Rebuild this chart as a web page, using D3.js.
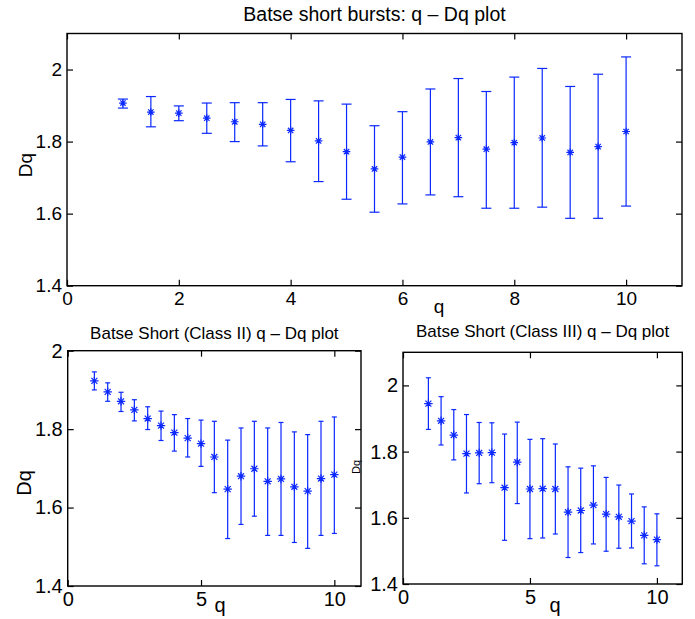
<!DOCTYPE html>
<html>
<head>
<meta charset="utf-8">
<script src="https://cdn.jsdelivr.net/npm/d3@7"></script>
<style>
  body { margin: 0; background: #fff; }
  svg { display: block; font-family: "Liberation Sans", Arial, sans-serif; }
</style>
</head>
<body>
<svg id="chart" width="695" height="619"></svg>
<script>
// q values shared by all three panels
const qValues = [1, 1.5, 2, 2.5, 3, 3.5, 4, 4.5, 5, 5.5, 6, 6.5, 7, 7.5, 8, 8.5, 9, 9.5, 10];

// all short bursts
const allDq = [1.907, 1.882, 1.879, 1.865, 1.855, 1.848, 1.831, 1.802, 1.772, 1.724, 1.757, 1.799, 1.811, 1.779, 1.797, 1.810, 1.770, 1.786, 1.828];
const allLo = [1.893, 1.841, 1.858, 1.823, 1.800, 1.788, 1.744, 1.689, 1.640, 1.604, 1.627, 1.652, 1.647, 1.615, 1.615, 1.618, 1.587, 1.587, 1.621];
const allHi = [1.918, 1.925, 1.899, 1.907, 1.908, 1.908, 1.917, 1.913, 1.904, 1.844, 1.883, 1.946, 1.975, 1.939, 1.979, 2.003, 1.953, 1.987, 2.035];

// class II
const class2Dq = [1.923, 1.895, 1.871, 1.849, 1.827, 1.809, 1.791, 1.777, 1.763, 1.729, 1.647, 1.680, 1.699, 1.667, 1.673, 1.653, 1.642, 1.674, 1.684];
const class2Lo = [1.900, 1.871, 1.845, 1.821, 1.799, 1.771, 1.744, 1.729, 1.705, 1.638, 1.521, 1.557, 1.578, 1.529, 1.529, 1.511, 1.496, 1.529, 1.534];
const class2Hi = [1.946, 1.918, 1.894, 1.875, 1.857, 1.846, 1.837, 1.827, 1.823, 1.820, 1.772, 1.803, 1.820, 1.803, 1.817, 1.793, 1.786, 1.820, 1.831];

// class III
const class3Dq = [1.945, 1.893, 1.850, 1.794, 1.796, 1.797, 1.691, 1.768, 1.687, 1.688, 1.687, 1.617, 1.622, 1.638, 1.611, 1.603, 1.590, 1.547, 1.534];
const class3Lo = [1.867, 1.820, 1.775, 1.675, 1.703, 1.706, 1.532, 1.643, 1.537, 1.539, 1.551, 1.480, 1.495, 1.521, 1.499, 1.508, 1.509, 1.461, 1.455];
const class3Hi = [2.023, 1.966, 1.927, 1.912, 1.888, 1.887, 1.853, 1.889, 1.837, 1.839, 1.823, 1.754, 1.750, 1.757, 1.722, 1.699, 1.672, 1.633, 1.612];

// tick labels
const topXTicks = [0, 2, 4, 6, 8, 10];
const smallXTicks = [0, 5, 10];
const yTicks = [1.4, 1.6, 1.8, 2];

const titles = ['Batse short bursts: q \u2013 Dq plot', 'Batse Short (Class II) q \u2013 Dq plot', 'Batse Short (Class III) q \u2013 Dq plot'];

const svg = d3.select('#chart');
const blue = '#0a28ff';

function asterisk(r) {
  const d = r * Math.SQRT1_2;
  return 'M' + (-r) + ',0H' + r + 'M0,' + (-r) + 'V' + r +
    'M' + (-d) + ',' + (-d) + 'L' + d + ',' + d +
    'M' + (-d) + ',' + d + 'L' + d + ',' + (-d);
}

function panel(opt) {
  const x = d3.scaleLinear().domain([0, 11]).range([opt.left, opt.right]);
  const y = d3.scaleLinear().domain(opt.yDomain).range([opt.bottom, opt.top]);
  const g = svg.append('g');

  const rows = qValues.map((q, i) => ({ q: q, v: opt.dq[i], lo: opt.lo[i], hi: opt.hi[i] }));

  // axes, ticks pointing inward
  const fmt = d => String(d);
  const ax = [
    g.append('g').attr('transform', 'translate(0,' + opt.bottom + ')')
      .call(d3.axisBottom(x).tickValues(opt.xTicks).tickSizeInner(-opt.tick).tickSizeOuter(0).tickPadding(6).tickFormat(fmt)),
    g.append('g').attr('transform', 'translate(' + opt.left + ',0)')
      .call(d3.axisLeft(y).tickValues(yTicks).tickSizeInner(-opt.tick).tickSizeOuter(0).tickPadding(5).tickFormat(fmt)),
    g.append('g').attr('transform', 'translate(0,' + opt.top + ')')
      .call(d3.axisTop(x).tickValues(opt.xTicks).tickSizeInner(-opt.tick).tickSizeOuter(0).tickFormat('')),
    g.append('g').attr('transform', 'translate(' + opt.right + ',0)')
      .call(d3.axisRight(y).tickValues(yTicks).tickSizeInner(-opt.tick).tickSizeOuter(0).tickFormat(''))
  ];
  ax.forEach(a => {
    a.select('.domain').remove();
    a.selectAll('line').attr('stroke', '#000').attr('stroke-width', 1.2);
    a.selectAll('text').attr('fill', '#000')
      .style('font-family', '"Liberation Sans", Arial, sans-serif')
      .style('font-size', opt.tickFont + 'px');
  });

  g.append('rect')
    .attr('x', opt.left).attr('y', opt.top)
    .attr('width', opt.right - opt.left).attr('height', opt.bottom - opt.top)
    .attr('fill', 'none').attr('stroke', '#000').attr('stroke-width', 1.4);

  // error bars
  const bars = g.append('g').attr('stroke', blue).attr('stroke-width', 1.2).attr('fill', 'none');
  bars.selectAll('line.v').data(rows).join('line').attr('class', 'v')
    .attr('x1', d => x(d.q)).attr('x2', d => x(d.q))
    .attr('y1', d => y(d.lo)).attr('y2', d => y(d.hi));
  bars.selectAll('line.capl').data(rows).join('line').attr('class', 'capl')
    .attr('x1', d => x(d.q) - opt.cap).attr('x2', d => x(d.q) + opt.cap)
    .attr('y1', d => y(d.lo)).attr('y2', d => y(d.lo));
  bars.selectAll('line.caph').data(rows).join('line').attr('class', 'caph')
    .attr('x1', d => x(d.q) - opt.cap).attr('x2', d => x(d.q) + opt.cap)
    .attr('y1', d => y(d.hi)).attr('y2', d => y(d.hi));
  bars.selectAll('path').data(rows).join('path')
    .attr('transform', d => 'translate(' + x(d.q) + ',' + y(d.v) + ')')
    .attr('d', asterisk(opt.mark));

  // labels
  g.append('text')
    .attr('x', (opt.left + opt.right) / 2).attr('y', opt.titleY)
    .attr('text-anchor', 'middle').style('font-size', opt.titleFont + 'px')
    .text(opt.title);
  g.append('text')
    .attr('x', opt.qX).attr('y', opt.qY)
    .attr('text-anchor', 'middle').style('font-size', opt.labelFont + 'px')
    .text('q');
  g.append('text')
    .attr('transform', 'translate(' + opt.dqX + ',' + opt.dqY + ') rotate(-90)')
    .attr('text-anchor', 'middle').style('font-size', opt.dqFont + 'px')
    .text('Dq');
}

panel({
  left: 67, right: 682, top: 33.5, bottom: 285.7, yDomain: [1.4, 2.1],
  xTicks: topXTicks, dq: allDq, lo: allLo, hi: allHi, tick: 6, cap: 5, mark: 3.8,
  tickFont: 19, title: titles[0], titleY: 21, titleFont: 19.5,
  qX: 439, qY: 313, labelFont: 19, dqX: 32, dqY: 165, dqFont: 19
});

panel({
  left: 67.7, right: 361, top: 350.7, bottom: 586, yDomain: [1.4, 2.0],
  xTicks: smallXTicks, dq: class2Dq, lo: class2Lo, hi: class2Hi, tick: 6, cap: 2.5, mark: 4.2,
  tickFont: 20, title: titles[1], titleY: 339, titleFont: 17,
  qX: 220, qY: 612, labelFont: 20, dqX: 31, dqY: 483, dqFont: 20
});

panel({
  left: 403, right: 682.3, top: 352.3, bottom: 584, yDomain: [1.4, 2.1],
  xTicks: smallXTicks, dq: class3Dq, lo: class3Lo, hi: class3Hi, tick: 6, cap: 2.5, mark: 4.2,
  tickFont: 20, title: titles[2], titleY: 337, titleFont: 17,
  qX: 555, qY: 612, labelFont: 20, dqX: 360, dqY: 467, dqFont: 11
});
</script>
</body>
</html>
